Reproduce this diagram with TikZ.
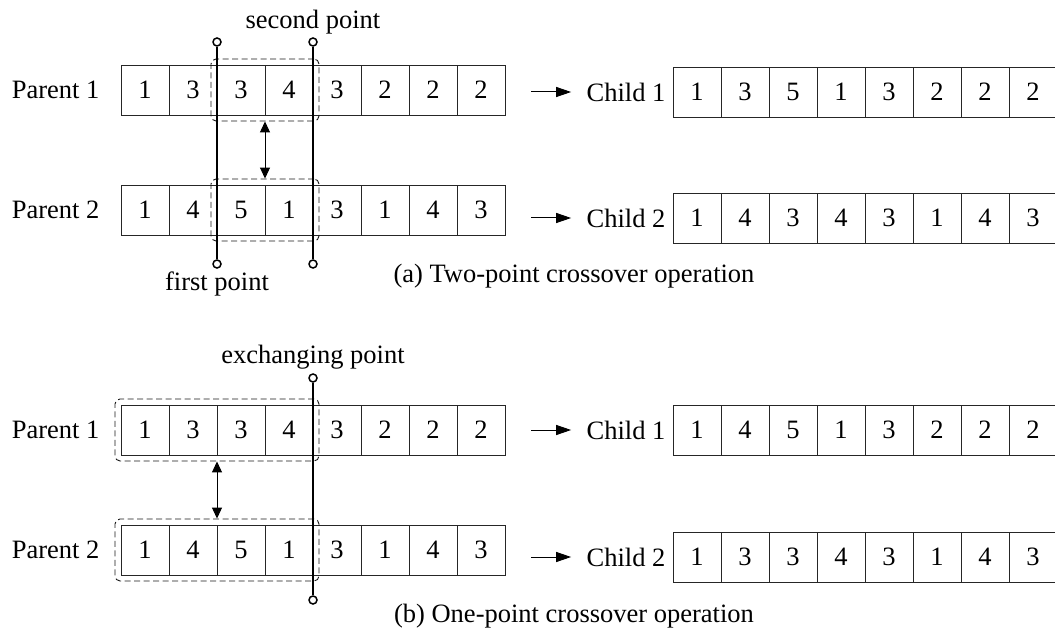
\documentclass[tikz,border=0pt]{standalone}
\usepackage{fontspec}
\setmainfont{Liberation Serif}
\usetikzlibrary{positioning,calc,fit,arrows.meta}

\begin{document}
\begin{tikzpicture}[x=1pt, y=-1pt, every node/.style={font=\fontsize{26.5}{30}\selectfont}]
  \tikzstyle{cell}=[draw=black!85, line width=0.9pt, minimum width=48pt, minimum height=50pt, inner sep=0pt, outer sep=0pt]
  \tikzstyle{swapbox}=[draw=black!90, dashed, dash pattern=on 6pt off 3.5pt, line width=0.9pt, rounded corners=5pt, inner sep=6pt]
  \tikzstyle{pin}=[circle, draw, fill=white, line width=1.5pt, minimum size=8pt, inner sep=0pt]
  \tikzstyle{cutline}=[line width=2.3pt]
  \tikzstyle{feed}=[-{Triangle[length=15pt, width=10pt]}, line width=1pt]
  \tikzstyle{xchg}=[{Triangle[length=11pt, width=10pt]}-{Triangle[length=11pt, width=10pt]}, line width=1pt]
  \useasboundingbox (0,0) rectangle (1055,639);

  % (a) two-point crossover
  \foreach \v [count=\i] in {1,3,3,4,3,2,2,2}
    \node[cell] (pa1-\i) at ({97+48*\i},90) {\v};
  \foreach \v [count=\i] in {1,4,5,1,3,1,4,3}
    \node[cell] (pa2-\i) at ({97+48*\i},210) {\v};
  \foreach \v [count=\i] in {1,3,5,1,3,2,2,2}
    \node[cell] (ca1-\i) at ({649+48*\i},92) {\v};
  \foreach \v [count=\i] in {1,4,3,4,3,1,4,3}
    \node[cell] (ca2-\i) at ({649+48*\i},218) {\v};

  \node[left=18pt of pa1-1] (pla1) {Parent 1};
  \node[left=18pt of pa2-1] (pla2) {Parent 2};
  \node[left=4pt of ca1-1] (cla1) {Child 1};
  \node[left=4pt of ca2-1] (cla2) {Child 2};
  \draw[feed, shorten <=26pt, shorten >=12pt] (pa1-8.east |- cla1.west) -- (cla1.west);
  \draw[feed, shorten <=26pt, shorten >=12pt] (pa2-8.east |- cla2.west) -- (cla2.west);

  \node[swapbox, fit=(pa1-3)(pa1-4)] (sw-a1) {};
  \node[swapbox, fit=(pa2-3)(pa2-4)] (sw-a2) {};
  \draw[xchg] (sw-a1) -- (sw-a2);

  \node[pin] (fp-top) at ($(pa1-2.east)+(0,-48)$) {};
  \node[pin] (fp-bot) at ($(pa2-2.east)+(0,54)$) {};
  \node[pin] (sp-top) at ($(pa1-4.east)+(0,-48)$) {};
  \node[pin] (sp-bot) at ($(pa2-4.east)+(0,54)$) {};
  \draw[cutline] (fp-top) -- (fp-bot);
  \draw[cutline] (sp-top) -- (sp-bot);
  \node[above=0pt of sp-top] (sp-lbl) {second point};
  \node[below=0pt of fp-bot] (fp-lbl) {first point};
  \node (cap-a) at (574,276) {(a) Two-point crossover operation};

  % (b) one-point crossover
  \foreach \v [count=\i] in {1,3,3,4,3,2,2,2}
    \node[cell] (pb1-\i) at ({97+48*\i},430) {\v};
  \foreach \v [count=\i] in {1,4,5,1,3,1,4,3}
    \node[cell] (pb2-\i) at ({97+48*\i},550) {\v};
  \foreach \v [count=\i] in {1,4,5,1,3,2,2,2}
    \node[cell] (cb1-\i) at ({649+48*\i},430) {\v};
  \foreach \v [count=\i] in {1,3,3,4,3,1,4,3}
    \node[cell] (cb2-\i) at ({649+48*\i},557) {\v};

  \node[left=18pt of pb1-1] (plb1) {Parent 1};
  \node[left=18pt of pb2-1] (plb2) {Parent 2};
  \node[left=4pt of cb1-1] (clb1) {Child 1};
  \node[left=4pt of cb2-1] (clb2) {Child 2};
  \draw[feed, shorten <=26pt, shorten >=12pt] (pb1-8.east |- clb1.west) -- (clb1.west);
  \draw[feed, shorten <=26pt, shorten >=12pt] (pb2-8.east |- clb2.west) -- (clb2.west);

  \node[swapbox, fit=(pb1-1)(pb1-4)] (sw-b1) {};
  \node[swapbox, fit=(pb2-1)(pb2-4)] (sw-b2) {};
  \draw[xchg] (sw-b1) -- (sw-b2);

  \node[pin] (ep-top) at ($(pb1-4.east)+(0,-52)$) {};
  \node[pin] (ep-bot) at ($(pb2-4.east)+(0,50)$) {};
  \draw[cutline] (ep-top) -- (ep-bot);
  \node[above=0pt of ep-top] (ep-lbl) {exchanging point};
  \node (cap-b) at (574,616) {(b) One-point crossover operation};
\end{tikzpicture}
\end{document}
